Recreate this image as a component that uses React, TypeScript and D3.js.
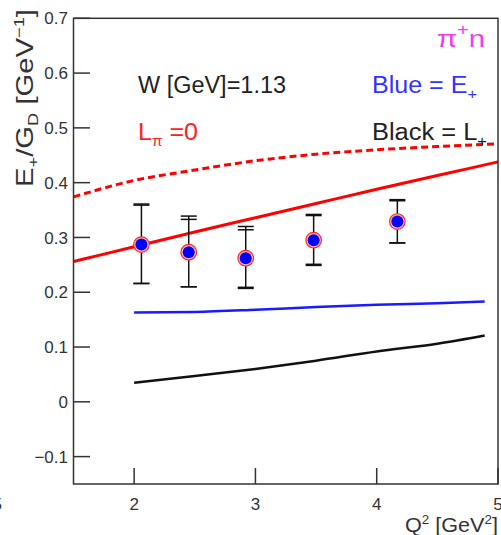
import * as d3 from 'd3';

// model curves
const q2Grid = [1.5, 2, 2.5, 3, 3.5, 4, 4.5, 5];
const redSolid = [0.256, 0.283, 0.31, 0.336, 0.362, 0.388, 0.413, 0.438];
const redDashed = [0.374, 0.404, 0.423, 0.44, 0.452, 0.46, 0.466, 0.471];

const modelQ2 = [2.0, 2.5, 3.0, 3.5, 4.0, 4.5, 4.89];
const blueE = [0.163, 0.164, 0.168, 0.173, 0.177, 0.18, 0.183];
const blackL = [0.035, 0.047, 0.06, 0.075, 0.092, 0.106, 0.121];

// measured points (E+/GD) with two sets of error bar ends
const dataQ2 = [2.06, 2.45, 2.92, 3.48, 4.17];
const dataE = [0.287, 0.273, 0.262, 0.295, 0.329];
const errUpA = [0.361, 0.339, 0.32, 0.342, 0.369];
const errUpB = [0.359, 0.333, 0.314, 0.34, 0.367];
const errLoA = [0.216, 0.21, 0.209, 0.251, 0.29];
const errLoB = [0.216, 0.21, 0.207, 0.249, 0.29];

const yTicks = [-0.1, 0, 0.1, 0.2, 0.3, 0.4, 0.5, 0.6, 0.7];
const xTicks = [2, 3, 4, 5];

const W = 501;
const H = 535;
const FONT = '"Liberation Sans", Arial, sans-serif';

export default function App() {
  const x = d3.scaleLinear().domain([1.5, 5]).range([73.5, 498]);
  const y = d3.scaleLinear().domain([-0.15, 0.7]).range([484, 18.3]);

  const line = d3
    .line<[number, number]>()
    .x((d) => x(d[0]))
    .y((d) => y(d[1]))
    .curve(d3.curveMonotoneX);

  const pairs = (xs: number[], ys: number[]) => xs.map((v, i) => [v, ys[i]] as [number, number]);

  const fmt = (v: number) => (v === 0 ? '0' : v < 0 ? '\u2212' + Math.abs(v).toFixed(1) : v.toFixed(1));

  const capW = 8;

  return (
    <svg width={W} height={H} style={{ position: 'absolute', left: 0, top: 0, background: '#fff' }} fontFamily={FONT}>
      {/* model curves */}
      <path d={line(pairs(q2Grid, redDashed)) || ''} fill="none" stroke="#ff0000" strokeWidth={3} strokeDasharray="7 4" />
      <path d={line(pairs(q2Grid, redSolid)) || ''} fill="none" stroke="#ff0000" strokeWidth={3} />
      <path d={line(pairs(modelQ2, blueE)) || ''} fill="none" stroke="#1a1aff" strokeWidth={2.5} />
      <path d={line(pairs(modelQ2, blackL)) || ''} fill="none" stroke="#111" strokeWidth={2.5} />

      {/* error bars */}
      {dataQ2.map((q, i) => {
        const cx = x(q);
        return (
          <g key={'e' + i} stroke="#111" strokeWidth={1.5}>
            <line x1={cx} x2={cx} y1={y(errUpA[i])} y2={y(errLoA[i])} />
            {[errUpA[i], errUpB[i], errLoA[i], errLoB[i]].map((v, j) => (
              <line key={j} x1={cx - capW} x2={cx + capW} y1={y(v)} y2={y(v)} />
            ))}
          </g>
        );
      })}

      {/* points */}
      {dataQ2.map((q, i) => (
        <g key={'p' + i}>
          <circle cx={x(q)} cy={y(dataE[i])} r={7.8} fill="#ffb4b4" stroke="#ff2a2a" strokeWidth={1.2} />
          <circle cx={x(q)} cy={y(dataE[i])} r={6} fill="#0000ff" />
        </g>
      ))}

      {/* frame */}
      <rect x={73.5} y={18.3} width={424.5} height={465.7} fill="none" stroke="#333" strokeWidth={1.5} />

      {/* y axis */}
      {yTicks.map((t) => (
        <g key={'y' + t}>
          <line x1={73.5} x2={90} y1={y(t)} y2={y(t)} stroke="#333" strokeWidth={1.5} />
          <text x={68} y={y(t)} dy="0.36em" textAnchor="end" fontSize={17} fill="#333">
            {fmt(t)}
          </text>
        </g>
      ))}

      {/* x axis */}
      {xTicks.map((t) => (
        <g key={'x' + t}>
          <line x1={x(t)} x2={x(t)} y1={484} y2={468} stroke="#333" strokeWidth={1.5} />
          <text x={x(t)} y={510} textAnchor="middle" fontSize={17} fill="#333">
            {t}
          </text>
        </g>
      ))}
      <text x={2} y={510} textAnchor="end" fontSize={17} fill="#333">5</text>

      {/* axis titles */}
      <text x={498} y={532} textAnchor="end" fontSize={21} fill="#333" textLength={93} lengthAdjust="spacingAndGlyphs">
        Q<tspan dy={-8} fontSize={13}>2</tspan>
        <tspan dy={8}> [GeV</tspan>
        <tspan dy={-8} fontSize={13}>2</tspan>
        <tspan dy={8}>]</tspan>
      </text>
      <text
        transform="translate(33,187) rotate(-90)"
        x={0}
        y={0}
        fontSize={24}
        fill="#333"
        textLength={178}
        lengthAdjust="spacingAndGlyphs"
      >
        E<tspan dy={5} fontSize={15}>+</tspan>
        <tspan dy={-5}>/G</tspan>
        <tspan dy={5} fontSize={15}>D</tspan>
        <tspan dy={-5}> [GeV</tspan>
        <tspan dy={-9} fontSize={15}>−1</tspan>
        <tspan dy={9}>]</tspan>
      </text>

      {/* annotations */}
      <text x={437} y={47} fontSize={24} fill="#f03cf0" textLength={48} lengthAdjust="spacingAndGlyphs">
        π<tspan dy={-12} fontSize={16}>+</tspan>
        <tspan dy={12}>n</tspan>
      </text>
      <text x={138} y={93} fontSize={23} fill="#222" textLength={148} lengthAdjust="spacingAndGlyphs">
        W [GeV]=1.13
      </text>
      <text x={372} y={93} fontSize={23} fill="#3333ff" textLength={105} lengthAdjust="spacingAndGlyphs">
        Blue = E<tspan dy={6} fontSize={15}>+</tspan>
      </text>
      <text x={138} y={140} fontSize={23} fill="#ff2020" textLength={60} lengthAdjust="spacingAndGlyphs">
        L<tspan dy={6} fontSize={14}>π</tspan>
        <tspan dy={-6}> =0</tspan>
      </text>
      <text x={372} y={140} fontSize={23} fill="#222" textLength={115} lengthAdjust="spacingAndGlyphs">
        Black = L<tspan dy={6} fontSize={15}>+</tspan>
      </text>
    </svg>
  );
}
